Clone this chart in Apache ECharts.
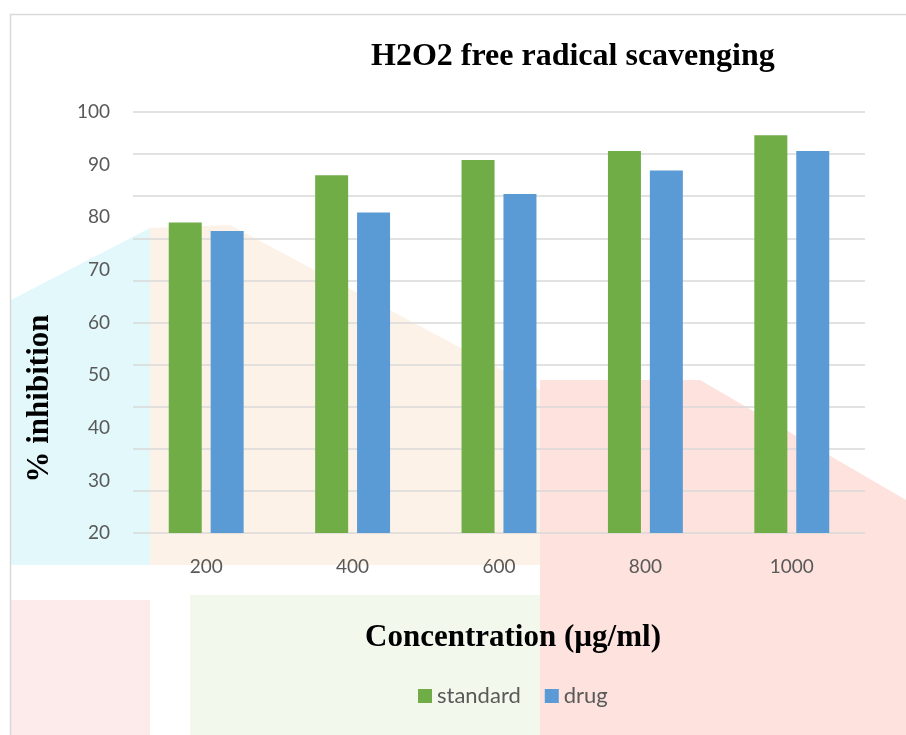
<!DOCTYPE html>
<html>
<head>
<meta charset="utf-8">
<script src="https://cdn.jsdelivr.net/npm/echarts@6/dist/echarts.min.js"></script>
<style>
html,body{margin:0;padding:0;background:#fff;}
#chart{width:906px;height:735px;}
</style>
</head>
<body>
<div id="chart"></div>
<script>
const categories = ['200', '400', '600', '800', '1000'];
const standardValues = [79.0, 88.0, 90.9, 92.6, 95.6];
const drugValues = [77.4, 80.9, 84.4, 88.9, 92.6];
const yLabelTicks = [20, 30, 40, 50, 60, 70, 80, 90, 100];

// faint background watermark (decoration only)
const watermark = [
  { pts: [[11,300],[150,228],[150,565],[11,565]], fill: '#e2f8fb' },
  { pts: [[150,228],[230,225],[540,390],[540,565],[150,565]], fill: '#fdf2e8' },
  { pts: [[540,380],[700,380],[906,500],[906,735],[540,735]], fill: '#fde2de' },
  { pts: [[190,595],[540,595],[540,735],[190,735]], fill: '#f2f8ec' },
  { pts: [[11,600],[150,600],[150,735],[11,735]], fill: '#fdeaea' }
];

const chart = echarts.init(document.getElementById('chart'));
const option = {
  backgroundColor: '#ffffff',
  animation: false,
  title: {
    text: 'H2O2 free radical scavenging',
    left: 366,
    top: 36,
    textStyle: {
      fontFamily: 'Liberation Serif',
      fontWeight: 'bold',
      fontSize: 32,
      color: '#000000'
    }
  },
  legend: {
    data: ['standard', 'drug'],
    left: 413,
    top: 680,
    itemWidth: 14,
    itemHeight: 14,
    itemGap: 24,
    icon: 'rect',
    textStyle: { fontFamily: 'Lato', fontSize: 22, color: '#595959' }
  },
  grid: { left: 133, right: 41, top: 112, bottom: 202 },
  xAxis: {
    type: 'category',
    data: categories,
    axisLine: { show: false },
    axisTick: { show: false },
    axisLabel: { fontFamily: 'Lato', fontSize: 19, color: '#595959', margin: 24 },
    name: 'Concentration (µg/ml)',
    nameLocation: 'middle',
    nameGap: 89,
    nameTextStyle: { fontFamily: 'Liberation Serif', fontWeight: 'bold', fontSize: 31, color: '#000000', padding: [0, 0, 0, 28] }
  },
  yAxis: [
    {
      type: 'value',
      min: yLabelTicks[0],
      max: yLabelTicks[yLabelTicks.length - 1],
      interval: 8,
      axisLine: { show: false },
      axisTick: { show: false },
      axisLabel: { show: false },
      splitLine: { show: true, lineStyle: { color: '#d9d9d9', width: 1.5 } }
    },
    {
      type: 'value',
      position: 'left',
      min: yLabelTicks[0],
      max: yLabelTicks[yLabelTicks.length - 1],
      interval: 10,
      axisLine: { show: false },
      axisTick: { show: false },
      splitLine: { show: false },
      axisLabel: { fontFamily: 'Lato', fontSize: 19, color: '#595959', margin: 23 },
      name: '% inhibition',
      nameLocation: 'middle',
      nameRotate: 90,
      nameGap: 78,
      nameTextStyle: { fontFamily: 'Liberation Serif', fontWeight: 'bold', fontSize: 31, color: '#000000', padding: [0, 152, 0, 0] }
    }
  ],
  series: [
    {
      name: 'standard',
      type: 'bar',
      yAxisIndex: 0,
      data: standardValues,
      barWidth: 33,
      barGap: '27%',
      itemStyle: { color: '#70ad47' }
    },
    {
      name: 'drug',
      type: 'bar',
      yAxisIndex: 0,
      data: drugValues,
      barWidth: 33,
      barGap: '27%',
      itemStyle: { color: '#5b9bd5' }
    }
  ],
  graphic: watermark.map(w => ({
    type: 'polygon',
    silent: true,
    z: -10,
    shape: { points: w.pts },
    style: { fill: w.fill }
  })).concat([
    {
      type: 'rect',
      silent: true,
      z: -1,
      shape: { x: 10.5, y: 14.5, width: 1000, height: 1000 },
      style: { fill: 'none', stroke: '#d9d9d9', lineWidth: 1.5 }
    }
  ])
};
chart.setOption(option);
</script>
</body>
</html>
